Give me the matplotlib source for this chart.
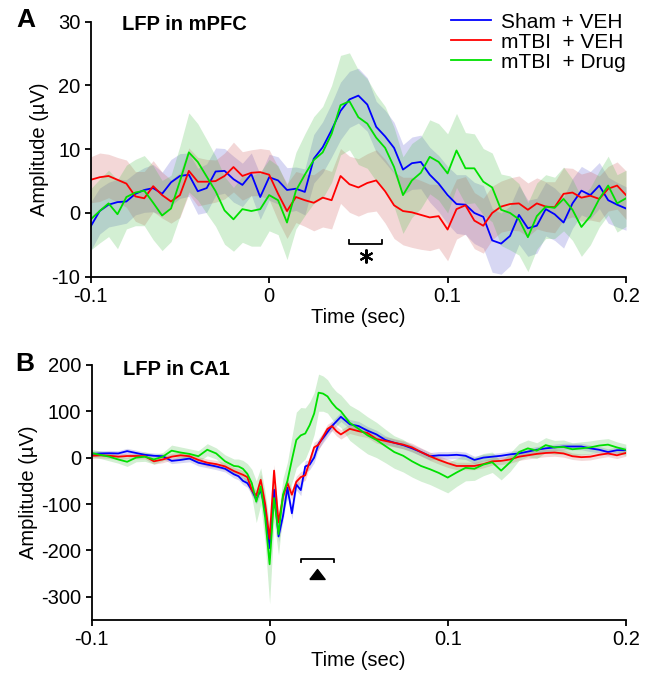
import numpy as np
import matplotlib
matplotlib.use("Agg")
import matplotlib.pyplot as plt

plt.rcParams['font.family'] = ['Liberation Sans', 'DejaVu Sans']
plt.rcParams['axes.unicode_minus'] = False

# ---- panel A: LFP in mPFC (uV), sampled every 5 ms from -0.1 to 0.2 s
t_a = np.linspace(-0.1, 0.2, 61)
sham_veh_a = [-2.1, 0.3, 1.3, 1.7, 1.8, 3.0, 3.6, 3.9, 3.0, 4.8,
              5.8, 6.0, 3.4, 3.9, 6.5, 6.6, 5.3, 4.4, 6.1, 2.5,
              5.6, 5.1, 3.6, 3.8, 3.3, 8.5, 10.3, 13.0, 16.0, 17.8,
              18.4, 17.0, 13.5, 12.0, 10.2, 6.8, 7.8, 8.0, 6.0, 4.6,
              2.8, 1.4, 1.3, 0.0, -0.6, -4.3, -4.8, -3.6, -0.3, -2.4,
              -2.0, 0.6, -0.2, -1.5, 1.5, 3.5, 2.8, 4.3, 2.0, 1.3,
              0.7]
mtbi_veh_a = [5.2, 5.6, 5.8, 5.2, 4.6, 2.6, 2.3, 4.2, 2.8, 1.8,
              2.8, 6.6, 4.9, 4.9, 5.0, 5.8, 7.2, 5.8, 6.3, 6.4,
              6.0, 3.0, 0.3, 2.5, 2.0, 1.6, 2.4, 2.0, 5.8, 4.5,
              4.0, 4.7, 5.1, 3.4, 1.2, 0.3, 0.1, -0.3, -0.7, -0.5,
              -2.6, 0.6, 1.2, -1.2, -2.0, 0.0, 1.0, 1.4, 1.5, 0.5,
              1.5, 1.0, 0.9, 3.0, 3.2, 2.4, 2.7, 2.2, 3.8, 4.3,
              2.8]
mtbi_drug_a = [-1.0, 0.3, 1.5, -0.2, 2.5, 3.2, 3.5, 1.6, -0.4, 0.7,
               5.0, 9.5, 8.0, 5.7, 3.4, 0.4, -1.0, 0.6, 0.3, 0.6,
               2.8, 2.0, -1.5, 3.5, 6.0, 8.3, 9.5, 12.4, 16.9, 17.5,
               15.0, 14.0, 11.8, 10.2, 7.2, 2.8, 5.1, 6.3, 8.8, 8.0,
               6.2, 9.8, 7.0, 7.0, 4.9, 4.0, 0.5, 0.0, -1.0, -3.8,
               -0.5, 1.0, 0.8, 2.2, 0.5, -2.2, -0.5, 2.2, 4.3, 1.5,
               2.3]
sham_veh_a_sem = [3.8, 3.6, 3.5, 3.6, 3.4, 3.3, 3.5, 3.7, 3.4, 3.6,
                  3.5, 3.4, 3.6, 3.8, 3.7, 3.5, 3.6, 3.4, 3.3, 3.5,
                  3.6, 3.7, 3.5, 3.4, 3.6, 3.8, 4.0, 4.2, 4.5, 4.4,
                  4.3, 4.2, 4.0, 4.1, 4.0, 3.9, 4.1, 4.2, 4.3, 4.4,
                  4.5, 4.6, 4.7, 4.8, 4.9, 5.0, 4.8, 4.7, 4.6, 4.4,
                  4.3, 4.2, 4.1, 4.0, 3.9, 3.8, 3.7, 3.6, 3.6, 3.5,
                  3.4]
mtbi_veh_a_sem = [3.6, 3.8, 3.4, 3.5, 3.7, 3.9, 4.2, 4.0, 3.6, 3.4,
                  3.5, 3.6, 3.8, 3.5, 3.3, 3.6, 3.9, 3.8, 3.6, 3.7,
                  3.9, 4.2, 4.3, 4.0, 4.1, 4.4, 4.6, 4.5, 4.3, 4.4,
                  4.5, 4.6, 4.8, 5.0, 5.2, 5.3, 5.5, 5.4, 5.2, 5.0,
                  4.9, 4.7, 4.5, 4.4, 4.3, 4.2, 4.0, 4.1, 4.3, 4.2,
                  4.0, 3.9, 4.0, 4.1, 3.8, 3.7, 3.8, 3.6, 3.5, 3.7,
                  3.8]
mtbi_drug_a_sem = [4.8, 5.0, 5.2, 5.4, 5.0, 5.2, 5.5, 5.8, 5.5, 5.2,
                   5.5, 6.2, 6.0, 5.8, 5.5, 5.3, 5.0, 5.2, 5.5, 5.8,
                   5.6, 5.4, 5.8, 6.0, 6.4, 6.8, 7.2, 7.6, 7.8, 7.6,
                   7.4, 7.0, 6.8, 6.5, 6.2, 6.0, 5.8, 5.6, 5.8, 6.0,
                   6.2, 5.8, 5.6, 5.4, 5.2, 5.4, 5.6, 5.8, 5.6, 5.4,
                   5.2, 5.0, 4.8, 5.0, 4.8, 4.6, 4.5, 4.4, 4.6, 4.5,
                   4.4]

# ---- panel B: LFP in CA1 (uV), 5 ms steps, 2.5 ms around the stimulus
t_b = np.concatenate([np.linspace(-0.1, -0.025, 16),
                      np.linspace(-0.02, 0.0375, 24),
                      np.linspace(0.04, 0.2, 33)])
sham_veh_b = [8, 9, 9.5, 9, 14, 10, 6, 4, 3, -7, -5, -2, -11, -15, -19, -24,
              -36, -40, -50, -55, -70, -90, -70, -110, -195, -69, -170, -126,
              -65, -120, -58, -70, -19, -15, 0, 30, 42, 55, 68, 78,
              88, 72, 68, 58, 50, 38, 32, 27, 20, 12, 3, 5, 5, 6, 4, -5, 0,
              2, 4, 7, 9, 13, 17, 20, 22, 24, 24, 24, 20, 17, 12, 16, 16]
mtbi_veh_b = [4, 5, 4, 2, 3.5, 3.5, 3, -8, -4, 2, 5, 3, -5, -11, -14, -19,
              -29, -33, -37, -42, -70, -82, -48, -100, -175, -28, -140, -85,
              -55, -80, -52, -42, -38, -8, 22, 28, 45, 62, 68, 57,
              50, 62, 57, 53, 40, 36, 32, 28, 22, 12, 3, -5, -12, -18, -18,
              -18, -14, -8, -7, -4, 2, 5, 8, 10, 11, 9, 3, 1, 2, 6, 9, 5, 10]
mtbi_drug_b = [10, 6, 2, -4, -9, 0, 2, -4, 2, 15, 11, 8, 3, 17, 9, -8,
               -18, -19, -24, -35, -55, -95, -62, -130, -230, -87, -165, -80,
               -50, -5, 38, 48, 52, 70, 95, 140, 138, 132, 118, 107,
               100, 75, 62, 48, 38, 25, 12, 4, -8, -18, -25, -33, -43, -32,
               -22, -24, -15, -10, -28, -10, 12, 20, 15, 27, 22, 23, 18, 20,
               22, 26, 28, 22, 17]
sham_veh_b_sem = [6, 6, 6, 6, 6, 6, 6, 6, 6, 6, 6, 7, 7, 7, 7, 7,
                  8, 8, 8, 9, 10, 10, 10, 12, 14, 12, 12, 12, 12, 12, 12, 12,
                  12, 11, 11, 11, 10, 10, 10, 10,
                  10, 10, 10, 9, 9, 9, 8, 8, 8, 8, 8, 8, 8, 8, 8, 8, 7, 7, 7,
                  7, 7, 7, 7, 7, 7, 7, 7, 7, 7, 7, 7, 7, 7]
mtbi_veh_b_sem = [6, 6, 6, 6, 6, 6, 6, 6, 7, 7, 7, 7, 7, 8, 8, 8,
                  8, 9, 9, 10, 11, 12, 12, 13, 14, 13, 13, 12, 12, 12, 12, 12,
                  11, 11, 11, 11, 10, 10, 10, 10,
                  10, 10, 10, 10, 9, 9, 9, 9, 9, 9, 9, 9, 9, 8, 8, 8, 8, 8, 8,
                  8, 8, 8, 8, 8, 8, 8, 7, 7, 7, 7, 7, 7, 7]
mtbi_drug_b_sem = [8, 8, 9, 8, 10, 9, 10, 10, 9, 12, 12, 11, 12, 13, 12, 14,
                   15, 16, 18, 22, 30, 45, 40, 55, 85, 50, 45, 35, 40, 50, 60,
                   60, 55, 50, 45, 40, 38, 36, 35, 35,
                   35, 38, 40, 40, 38, 36, 35, 35, 34, 33, 33, 34, 33, 30, 28,
                   25, 24, 22, 20, 20, 18, 18, 17, 16, 15, 15, 14, 14, 14, 13,
                   13, 12, 12]

group_labels = ['Sham + VEH', 'mTBI  + VEH', 'mTBI  + Drug']
group_colors = ['#0000ff', '#ff0000', '#00e000']
band_colors = ['#6060d0', '#d06060', '#50c050']
x_ticks = [-0.1, 0, 0.1, 0.2]
x_tick_labels = ['-0.1', '0', '0.1', '0.2']

# significance markers (time span in s, level in uV)
sig_a = (0.045, 0.063, -4.9)
sig_b = (0.0174, 0.036, -218)


def style_axes(ax):
    ax.spines['top'].set_visible(False)
    ax.spines['right'].set_visible(False)
    for s in ('left', 'bottom'):
        ax.spines[s].set_linewidth(1.3)
    ax.tick_params(direction='out', length=4.5, width=1.3, labelsize=14.5, pad=3)
    ax.set_xlim(-0.1, 0.2)
    ax.set_xticks(x_ticks)
    ax.set_xticklabels(x_tick_labels)
    ax.set_xlabel('Time (sec)', fontsize=14.5, labelpad=1)
    ax.set_ylabel('Amplitude (µV)', fontsize=14.5, labelpad=2)


def draw_traces(ax, t, means, sems):
    for m, s, c in zip(means, sems, band_colors):
        m = np.asarray(m, float)
        s = np.asarray(s, float)
        ax.fill_between(t, m - s, m + s, color=c, alpha=0.25, lw=0)
    for m, c, lab in zip(means, group_colors, group_labels):
        ax.plot(t, m, color=c, lw=1.3, label=lab)


fig = plt.figure(figsize=(6.56, 6.75), dpi=100)
ax_a = fig.add_axes([0.1383, 0.590, 0.816, 0.378])
ax_b = fig.add_axes([0.1395, 0.0815, 0.8145, 0.378])

# panel A
draw_traces(ax_a, t_a, [sham_veh_a, mtbi_veh_a, mtbi_drug_a],
            [sham_veh_a_sem, mtbi_veh_a_sem, mtbi_drug_a_sem])
style_axes(ax_a)
ax_a.set_ylim(-10, 30)
ax_a.set_yticks([-10, 0, 10, 20, 30])
ax_a.plot([sig_a[0], sig_a[0], sig_a[1], sig_a[1]],
          [sig_a[2] + 0.6, sig_a[2], sig_a[2], sig_a[2] + 0.6], color='k', lw=1.3)
ax_a.plot((sig_a[0] + sig_a[1]) / 2, sig_a[2] - 1.9, marker=(6, 2, 0),
          color='k', markersize=10, mew=1.5)
ax_a.text(0.058, 0.99, 'LFP in mPFC', transform=ax_a.transAxes,
          fontsize=14.5, fontweight='bold', va='center', ha='left')
ax_a.legend(loc='upper right', bbox_to_anchor=(1.0, 1.035), frameon=False,
            fontsize=15, handlelength=1.9, handletextpad=0.5,
            labelspacing=0.05, borderpad=0, borderaxespad=0)

# panel B
draw_traces(ax_b, t_b, [sham_veh_b, mtbi_veh_b, mtbi_drug_b],
            [sham_veh_b_sem, mtbi_veh_b_sem, mtbi_drug_b_sem])
style_axes(ax_b)
ax_b.set_ylim(-350, 200)
ax_b.set_yticks([-300, -200, -100, 0, 100, 200])
ax_b.plot([sig_b[0], sig_b[0], sig_b[1], sig_b[1]],
          [sig_b[2] - 7, sig_b[2], sig_b[2], sig_b[2] - 7], color='k', lw=1.3)
ax_b.plot((sig_b[0] + sig_b[1]) / 2, sig_b[2] - 32,
          marker=[(-1, -0.65), (1, -0.65), (0, 0.65), (-1, -0.65)],
          color='k', markersize=11, lw=0)
ax_b.text(0.059, 0.98, 'LFP in CA1', transform=ax_b.transAxes,
          fontsize=14.5, fontweight='bold', va='center', ha='left')

fig.text(0.0396, 0.971, 'A', fontsize=19, fontweight='bold', ha='center', va='center')
fig.text(0.038, 0.461, 'B', fontsize=19, fontweight='bold', ha='center', va='center')

fig.savefig('out.png', dpi=100)
